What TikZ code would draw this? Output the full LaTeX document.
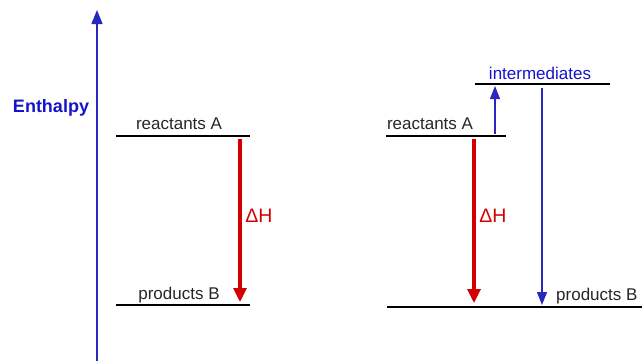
\documentclass[tikz,border=0pt]{standalone}
\usepackage{fontspec}
\setmainfont{Liberation Sans}
\usetikzlibrary{arrows.meta}
\definecolor{axblue}{RGB}{40,40,190}
\definecolor{txtblue}{RGB}{20,20,200}
\definecolor{dhred}{RGB}{210,0,0}
\tikzset{
  level/.style={draw=black, line width=1.2pt},
  lbl/.style={inner sep=0pt, font=\fontsize{17}{19}\selectfont, text=black!85},
  uparrow/.style={draw=axblue, line width=1.4pt, -{Triangle[width=10pt,length=13pt]}},
  redarrow/.style={draw=dhred, line width=3.2pt, -{Triangle[width=13pt,length=14pt]}},
  dh/.style={inner sep=0pt, text=dhred, font=\fontsize{19.5}{21}\selectfont},
}
\begin{document}
\begin{tikzpicture}[x=1pt,y=-1pt]
\useasboundingbox (0,0) rectangle (642,360);
% axis
\coordinate (axb) at (97,362);
\coordinate (axt) at (97,10);
\draw[draw=axblue, line width=1.4pt, -{Triangle[width=11pt,length=14pt]}] (axb) -- (axt);
\node[inner sep=0pt, text=txtblue, font=\bfseries\fontsize{18}{20}\selectfont] (enth) at (51,108) {Enthalpy};
% left diagram
\coordinate (lrA1) at (116,136); \coordinate (lrA2) at (250,136);
\coordinate (lpB1) at (116,305); \coordinate (lpB2) at (250,305);
\draw[level] (lrA1) -- (lrA2);
\draw[level] (lpB1) -- (lpB2);
\node[lbl] (lreact) at (179,124) {reactants A};
\node[lbl] (lprod) at (179,295) {products B};
\coordinate (lred1) at (240,139); \coordinate (lred2) at (240,302);
\draw[redarrow] (lred1) -- (lred2);
\node[dh] (ldh) at (259,216) {ΔH};
% right diagram
\coordinate (rrA1) at (386,136); \coordinate (rrA2) at (506,136);
\coordinate (rin1) at (475,84); \coordinate (rin2) at (610,84);
\coordinate (rpB1) at (387,307); \coordinate (rpB2) at (642,307);
\draw[level] (rrA1) -- (rrA2);
\draw[level] (rin1) -- (rin2);
\draw[level] (rpB1) -- (rpB2);
\node[lbl] (rreact) at (430,124) {reactants A};
\node[lbl, text=txtblue] (rinter) at (540,73) {intermediates};
\node[lbl, anchor=west] (rprod) at (556,296) {products B};
\coordinate (rup1) at (495,134); \coordinate (rup2) at (495,86);
\draw[uparrow] (rup1) -- (rup2);
\coordinate (rdn1) at (542,88); \coordinate (rdn2) at (542,305);
\draw[uparrow] (rdn1) -- (rdn2);
\coordinate (rred1) at (474,139); \coordinate (rred2) at (474,303);
\draw[redarrow] (rred1) -- (rred2);
\node[dh] (rdh) at (493,216) {ΔH};
\end{tikzpicture}
\end{document}
